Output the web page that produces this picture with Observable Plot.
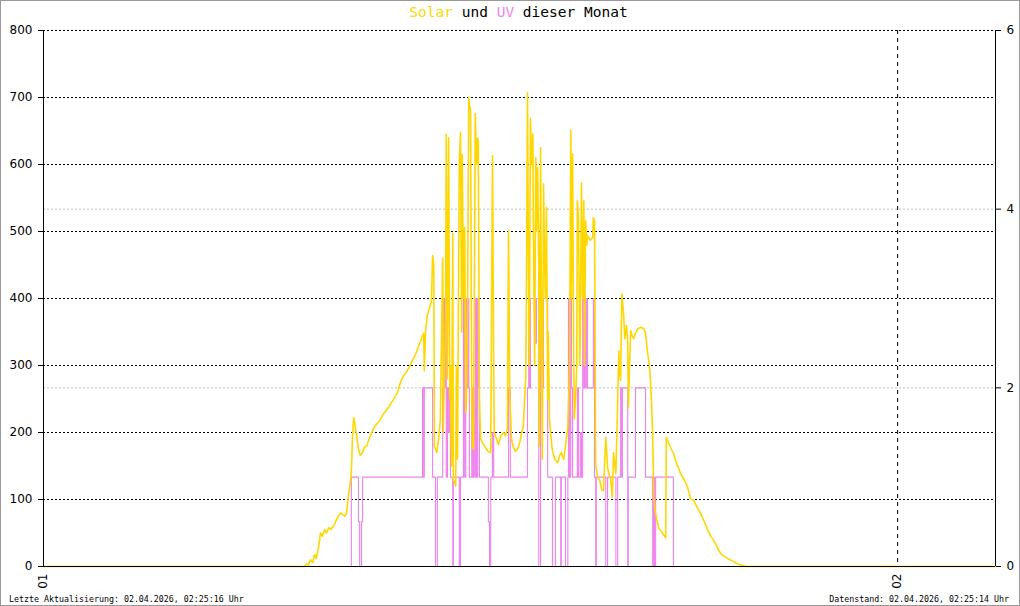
<!DOCTYPE html>
<html><head><meta charset="utf-8">
<script src="https://cdn.jsdelivr.net/npm/d3@7"></script>
<script src="https://cdn.jsdelivr.net/npm/@observablehq/plot@0.6"></script>
<style>body{margin:0;background:#fff}#chart{position:relative;width:1020px;height:606px}</style>
</head><body><div id="chart"></div>
<script>
// ---- data ----
const titleParts = [["Solar", "#ffd700"], [" und ", "#000"], ["UV", "#ee82ee"], [" dieser Monat", "#000"]];
const footerLeft = "Letzte Aktualisierung: 02.04.2026, 02:25:16 Uhr";
const footerRight = "Datenstand: 02.04.2026, 02:25:14 Uhr";
const xDomain = ["01 00:00", "02 02:45"];
const xTicks = ["01 00:00", "02 00:00"];
const yTicks = [0, 100, 200, 300, 400, 500, 600, 700, 800];
const uvTicks = [0, 2, 4, 6];
const yMax = 800, uvMax = 6;

const solarTimes = ["01 00:00","01 07:20","01 07:23","01 07:27","01 07:30","01 07:34","01 07:37","01 07:40","01 07:44","01 07:47","01 07:50","01 07:54","01 07:57","01 08:01","01 08:04","01 08:09","01 08:14","01 08:17","01 08:21","01 08:24","01 08:28","01 08:31","01 08:34","01 08:38","01 08:39","01 08:41","01 08:43","01 08:44","01 08:48","01 08:51","01 08:54","01 08:58","01 09:01","01 09:05","01 09:08","01 09:11","01 09:16","01 09:21","01 09:27","01 09:32","01 09:37","01 09:42","01 09:47","01 09:52","01 09:57","01 10:02","01 10:07","01 10:12","01 10:17","01 10:22","01 10:27","01 10:32","01 10:36","01 10:39","01 10:41","01 10:42","01 10:44","01 10:47","01 10:51","01 10:54","01 10:56","01 10:58","01 10:59","01 11:03","01 11:06","01 11:09","01 11:13","01 11:14","01 11:18","01 11:19","01 11:21","01 11:23","01 11:25","01 11:26","01 11:28","01 11:30","01 11:31","01 11:35","01 11:36","01 11:38","01 11:41","01 11:43","01 11:45","01 11:46","01 11:48","01 11:50","01 11:52","01 11:53","01 11:55","01 11:57","01 11:58","01 12:00","01 12:02","01 12:03","01 12:05","01 12:08","01 12:10","01 12:12","01 12:13","01 12:15","01 12:17","01 12:20","01 12:25","01 12:29","01 12:34","01 12:37","01 12:39","01 12:40","01 12:44","01 12:47","01 12:51","01 12:56","01 12:59","01 13:02","01 13:04","01 13:06","01 13:09","01 13:12","01 13:16","01 13:19","01 13:23","01 13:26","01 13:29","01 13:33","01 13:34","01 13:36","01 13:38","01 13:39","01 13:41","01 13:43","01 13:45","01 13:46","01 13:48","01 13:50","01 13:51","01 13:53","01 13:55","01 13:56","01 13:58","01 14:00","01 14:01","01 14:03","01 14:05","01 14:06","01 14:08","01 14:10","01 14:11","01 14:13","01 14:17","01 14:18","01 14:22","01 14:27","01 14:30","01 14:33","01 14:37","01 14:40","01 14:44","01 14:47","01 14:49","01 14:50","01 14:52","01 14:54","01 14:55","01 14:57","01 14:59","01 15:00","01 15:02","01 15:04","01 15:05","01 15:07","01 15:09","01 15:11","01 15:12","01 15:14","01 15:16","01 15:17","01 15:19","01 15:22","01 15:26","01 15:27","01 15:29","01 15:31","01 15:34","01 15:38","01 15:41","01 15:44","01 15:48","01 15:51","01 15:54","01 15:56","01 15:59","01 16:01","01 16:05","01 16:08","01 16:10","01 16:11","01 16:13","01 16:15","01 16:16","01 16:18","01 16:20","01 16:23","01 16:25","01 16:26","01 16:28","01 16:30","01 16:33","01 16:35","01 16:38","01 16:42","01 16:47","01 16:52","01 16:55","01 16:58","01 17:02","01 17:05","01 17:07","01 17:09","01 17:12","01 17:17","01 17:24","01 17:29","01 17:30","01 17:34","01 17:37","01 17:42","01 17:47","01 17:54","01 18:01","01 18:06","01 18:11","01 18:16","01 18:21","01 18:28","01 18:35","01 18:40","01 18:45","01 18:50","01 18:55","01 19:02","01 19:08","01 19:13","01 19:22","01 19:30","01 19:37","01 19:44","02 02:45"];
const solarValues = [0,0,4,2,10,6,18,12,30,50,45,55,50,58,55,60,70,75,80,78,75,80,105,130,140,195,222,218,195,175,166,170,178,180,188,195,205,212,218,226,232,238,245,252,260,275,285,290,298,308,316,328,337,345,348,292,350,375,387,395,464,450,180,170,190,218,460,200,380,645,280,640,250,300,150,497,130,120,300,160,600,648,350,615,400,506,230,240,400,700,690,680,250,180,175,676,600,640,633,250,190,185,178,172,170,613,300,200,190,182,195,200,195,205,501,260,190,178,172,175,185,200,210,282,377,707,400,300,669,600,646,500,300,610,500,596,450,180,625,300,160,571,450,400,536,250,350,220,180,173,160,155,165,170,160,180,208,300,651,400,616,300,220,250,300,546,521,300,350,573,400,546,300,516,480,494,491,487,491,521,516,151,135,128,115,113,193,148,135,133,103,170,139,248,322,290,278,407,397,377,340,360,333,237,300,352,343,340,348,355,357,355,348,322,297,248,198,99,79,58,49,43,193,184,178,169,155,139,128,118,101,99,90,79,65,54,45,39,30,19,15,12,8,4,2,0,0];

const uvTimes = ["01 00:00","01 08:39","01 08:51","01 08:53","01 08:56","01 08:58","01 10:39","01 10:41","01 10:42","01 10:56","01 11:01","01 11:04","01 11:13","01 11:14","01 11:16","01 11:18","01 11:19","01 11:21","01 11:23","01 11:25","01 11:26","01 11:30","01 11:31","01 11:41","01 11:43","01 11:48","01 11:50","01 11:52","01 11:53","01 11:55","01 11:57","01 11:58","01 12:02","01 12:03","01 12:05","01 12:07","01 12:08","01 12:10","01 12:12","01 12:13","01 12:15","01 12:30","01 12:32","01 12:34","01 12:37","01 12:39","01 13:04","01 13:07","01 13:36","01 13:38","01 13:39","01 13:41","01 13:50","01 13:51","01 13:55","01 13:58","01 14:01","01 14:03","01 14:10","01 14:18","01 14:23","01 14:32","01 14:33","01 14:40","01 14:44","01 14:45","01 14:47","01 14:49","01 14:50","01 14:52","01 15:00","01 15:02","01 15:05","01 15:07","01 15:09","01 15:11","01 15:12","01 15:14","01 15:16","01 15:17","01 15:27","01 15:29","01 15:31","01 15:32","01 15:48","01 15:51","01 16:05","01 16:08","01 16:13","01 16:15","01 16:16","01 16:25","01 16:26","01 16:38","01 16:55","01 17:07","01 17:09","01 17:10","01 17:12","01 17:42","02 02:45"];
const uvValues = [0,1,0.5,0,0.5,1,2,1,2,1,0,1,2,3,2,3,1,2,1.5,2,1,0,1,0,1,3,1,3,2,3,2,1,2,1,2,1,3,1,3,2,1,0.5,0,1,1.5,1,2,1,2,3,2,3,2.5,3,0,3,2,3,1,0,1,0,1,0,1,3,1,3,2,1,2,1,1.5,1,3,2,3,2,3,2,3,1,0,1,0,1,0,1,2,1,2,0,1,2,1,0,1,0,1,0,0];

// ---- build ----
const parse = s => new Date(Date.UTC(2026, 3, +s.slice(0, 2), +s.slice(3, 5), +s.slice(6, 8)));
const solar = solarTimes.map((t, i) => ({t: parse(t), v: solarValues[i]}));
const uv = uvTimes.map((t, i) => ({t: parse(t), v: uvValues[i]}));
const x0 = parse(xDomain[0]), x1 = parse(xDomain[1]);
const toY = u => u * yMax / uvMax;

const chart = Plot.plot({
  width: 1020, height: 606,
  marginLeft: 43, marginRight: 25, marginTop: 30, marginBottom: 40,
  style: {fontFamily: "DejaVu Sans", fontSize: "12px", background: "#fff", color: "#000"},
  x: {type: "utc", domain: [x0, x1]},
  y: {domain: [0, yMax]},
  marks: [
    Plot.gridY(yTicks.filter(d => d > 0), {stroke: "#000", strokeOpacity: 1, strokeDasharray: "2,2"}),
    Plot.gridY(uvTicks.filter(u => u > 0 && u < uvMax).map(toY), {stroke: "#bdbdbd", strokeOpacity: 1, strokeDasharray: "2,2"}),
    Plot.gridX([parse(xTicks[1])], {stroke: "#000", strokeOpacity: 1, strokeDasharray: "4,4"}),
    Plot.line(uv, {x: "t", y: d => toY(d.v), curve: "step-after", stroke: "#ee82ee", strokeWidth: 1.1}),
    Plot.line(solar, {x: "t", y: "v", stroke: "#ffd700", strokeWidth: 1.6}),
    Plot.ruleY([0], {stroke: "#000"}),
    Plot.ruleX([x0, x1], {stroke: "#000"}),
    Plot.axisY(yTicks, {anchor: "left", tickSize: 5, tickPadding: 6, label: null}),
    Plot.axisY(uvTicks.map(toY), {anchor: "right", tickSize: 5, tickPadding: 6, label: null, tickFormat: v => String(Math.round(v * uvMax / yMax))}),
    Plot.axisX(xTicks.map(parse), {anchor: "bottom", tickSize: 0, tickPadding: 7, tickRotate: -90, label: null, tickFormat: d => d3.utcFormat("%d")(d)})
  ]
});

const svg = d3.select(chart);
const mono = "'DejaVu Sans Mono', monospace";
const title = svg.append("text").attr("x", 518.5).attr("y", 17).attr("text-anchor", "middle")
  .attr("xml:space", "preserve")
  .style("font-family", mono).style("font-size", "14.5px");
titleParts.forEach(([s, c]) => title.append("tspan").attr("fill", c).style("white-space", "pre").text(s));
svg.append("text").attr("x", 9).attr("y", 602).attr("text-anchor", "start").text(footerLeft)
  .style("font-family", mono).style("font-size", "8.3px").attr("fill", "#000");
svg.append("text").attr("x", 1009).attr("y", 602).attr("text-anchor", "end").text(footerRight)
  .style("font-family", mono).style("font-size", "8.3px").attr("fill", "#000");
svg.append("rect").attr("x", 0.5).attr("y", 0.5).attr("width", 1019).attr("height", 605)
  .attr("fill", "none").attr("stroke", "#999");

document.getElementById("chart").appendChild(chart);
</script></body></html>
